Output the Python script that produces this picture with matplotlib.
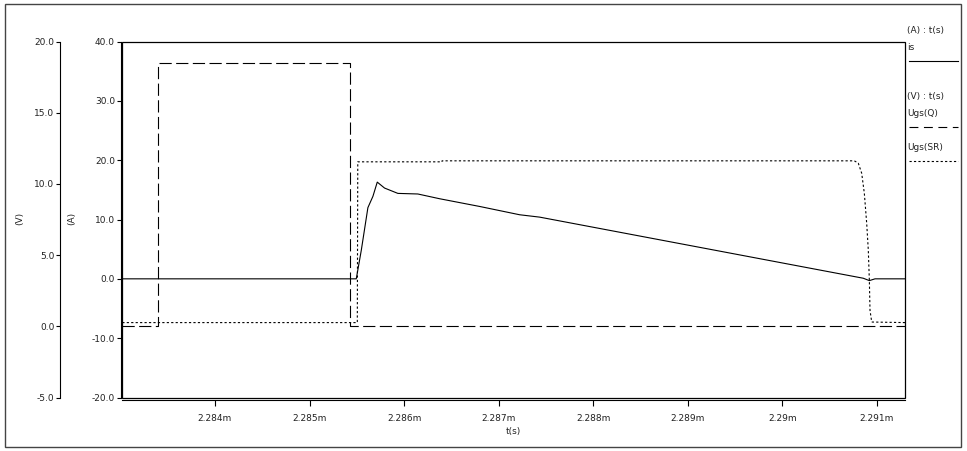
import matplotlib
matplotlib.use('Agg')
import matplotlib.pyplot as plt
from matplotlib.patches import Rectangle
from matplotlib.lines import Line2D
from matplotlib.ticker import FuncFormatter, MultipleLocator

# time values in ms
t_is = [2.28302, 2.285494, 2.285547, 2.285617, 2.285670, 2.285716, 2.285793,
        2.285934, 2.286145, 2.286375, 2.286798, 2.287221, 2.287433, 2.290855,
        2.290919, 2.290979, 2.29130]
i_s = [0.0, 0.0, 4.8, 12.0, 13.9, 16.3, 15.3, 14.4, 14.3, 13.5, 12.2, 10.8,
       10.4, 0.1, -0.3, 0.0, 0.0]

t_q = [2.28302, 2.283394, 2.283394, 2.285426, 2.285426, 2.29130]
ugs_q = [0.0, 0.0, 18.5, 18.5, 0.0, 0.0]

t_sr = [2.28302, 2.285505, 2.285510, 2.286400, 2.286401, 2.290760, 2.290802,
        2.290838, 2.290866, 2.290891, 2.290908, 2.290919, 2.290926, 2.290944,
        2.29130]
ugs_sr = [0.26, 0.26, 11.55, 11.55, 11.62, 11.62, 11.46, 10.75, 9.34, 7.23,
          5.35, 3.24, 1.13, 0.30, 0.26]

x_ticks = [2.284, 2.285, 2.286, 2.287, 2.288, 2.289, 2.290, 2.291]

plt.rcParams['font.family'] = 'DejaVu Sans'
plt.rcParams['font.size'] = 6.5
txt = '#222222'

W, H = 967, 451
fig = plt.figure(figsize=(W / 100, H / 100), dpi=100)

def fx(px):
    return px / W

def fy(py):
    return (H - py) / H

ax = fig.add_axes([fx(122), fy(397.5), fx(905) - fx(122), fy(41.5) - fy(397.5)])
ax2 = ax.twinx()

to_s = lambda ts: [v * 1e-3 for v in ts]
dash = (0, (11, 4))
dot = (0, (2, 2))

ax.plot(to_s(t_is), i_s, color='black', lw=0.8)
ax2.plot(to_s(t_q), ugs_q, color='black', lw=0.8, linestyle=dash)
ax2.plot(to_s(t_sr), ugs_sr, color='black', lw=0.8, linestyle=dot)

ax.set_xlim(2.283017e-3, 2.291296e-3)
ax.set_ylim(-20, 40)
ax2.set_ylim(-5, 20)

# A axis
ax.yaxis.set_major_locator(MultipleLocator(10))
ax.yaxis.set_major_formatter(FuncFormatter(lambda v, p: f'{v:.1f}'))
ax.tick_params(axis='y', direction='out', length=3, width=0.8, pad=1,
               labelcolor=txt, labelsize=6.5)
ax.spines['left'].set_position(('outward', 1))
ax.spines['bottom'].set_position(('outward', 2))
ax.spines['top'].set_visible(False)
ax.spines['right'].set_visible(False)
for s in ('left', 'bottom'):
    ax.spines[s].set_linewidth(0.8)

# x axis
ax.set_xticks([v * 1e-3 for v in x_ticks])
ax.xaxis.set_major_formatter(FuncFormatter(lambda v, p: f'{v * 1e3:g}m'))
ax.tick_params(axis='x', direction='out', length=4, width=0.8, pad=6,
               labelcolor=txt, labelsize=6.5)
ax.set_xlabel('t(s)', color=txt, fontsize=6.5, labelpad=3)

# box
ax.add_patch(Rectangle((0, 0), 1, 1, transform=ax.transAxes, fill=False,
                       edgecolor='black', lw=0.9, clip_on=False))

# V axis
for s in ('right', 'top', 'bottom'):
    ax2.spines[s].set_visible(False)
ax2.spines['left'].set_visible(True)
ax2.spines['left'].set_linewidth(0.8)
ax2.spines['left'].set_position(('outward', 62 * 0.72))
ax2.yaxis.tick_left()
ax2.yaxis.set_major_locator(MultipleLocator(5))
ax2.yaxis.set_major_formatter(FuncFormatter(lambda v, p: f'{v:.1f}'))
ax2.tick_params(axis='y', direction='out', length=3, width=0.8, pad=1,
                labelcolor=txt, labelsize=6.5)

fig.text(fx(20), fy(218), '(V)', rotation=90, ha='center', va='center',
         color=txt, fontsize=6.5)
fig.text(fx(72), fy(218), '(A)', rotation=90, ha='center', va='center',
         color=txt, fontsize=6.5)

# legend
fig.text(fx(907), fy(30), '(A) : t(s)', ha='left', va='center', color=txt)
fig.text(fx(907), fy(47), 'is', ha='left', va='center', color=txt)
fig.add_artist(Line2D([fx(909), fx(958)], [fy(61), fy(61)], color='black',
                      lw=0.8, transform=fig.transFigure))
fig.text(fx(907), fy(97), '(V) : t(s)', ha='left', va='center', color=txt)
fig.text(fx(907), fy(113), 'Ugs(Q)', ha='left', va='center', color=txt)
fig.add_artist(Line2D([fx(909), fx(958)], [fy(127), fy(127)], color='black',
                      lw=0.8, linestyle=(0, (8, 5)), transform=fig.transFigure))
fig.text(fx(907), fy(147), 'Ugs(SR)', ha='left', va='center', color=txt)
fig.add_artist(Line2D([fx(909), fx(958)], [fy(161), fy(161)], color='black',
                      lw=0.8, linestyle=dot, transform=fig.transFigure))

# outer border
fig.add_artist(Rectangle((fx(5), fy(447)), fx(961) - fx(5), fy(4) - fy(447),
                         transform=fig.transFigure, fill=False,
                         edgecolor='#444444', lw=1))

fig.savefig('out.png', dpi=100)
